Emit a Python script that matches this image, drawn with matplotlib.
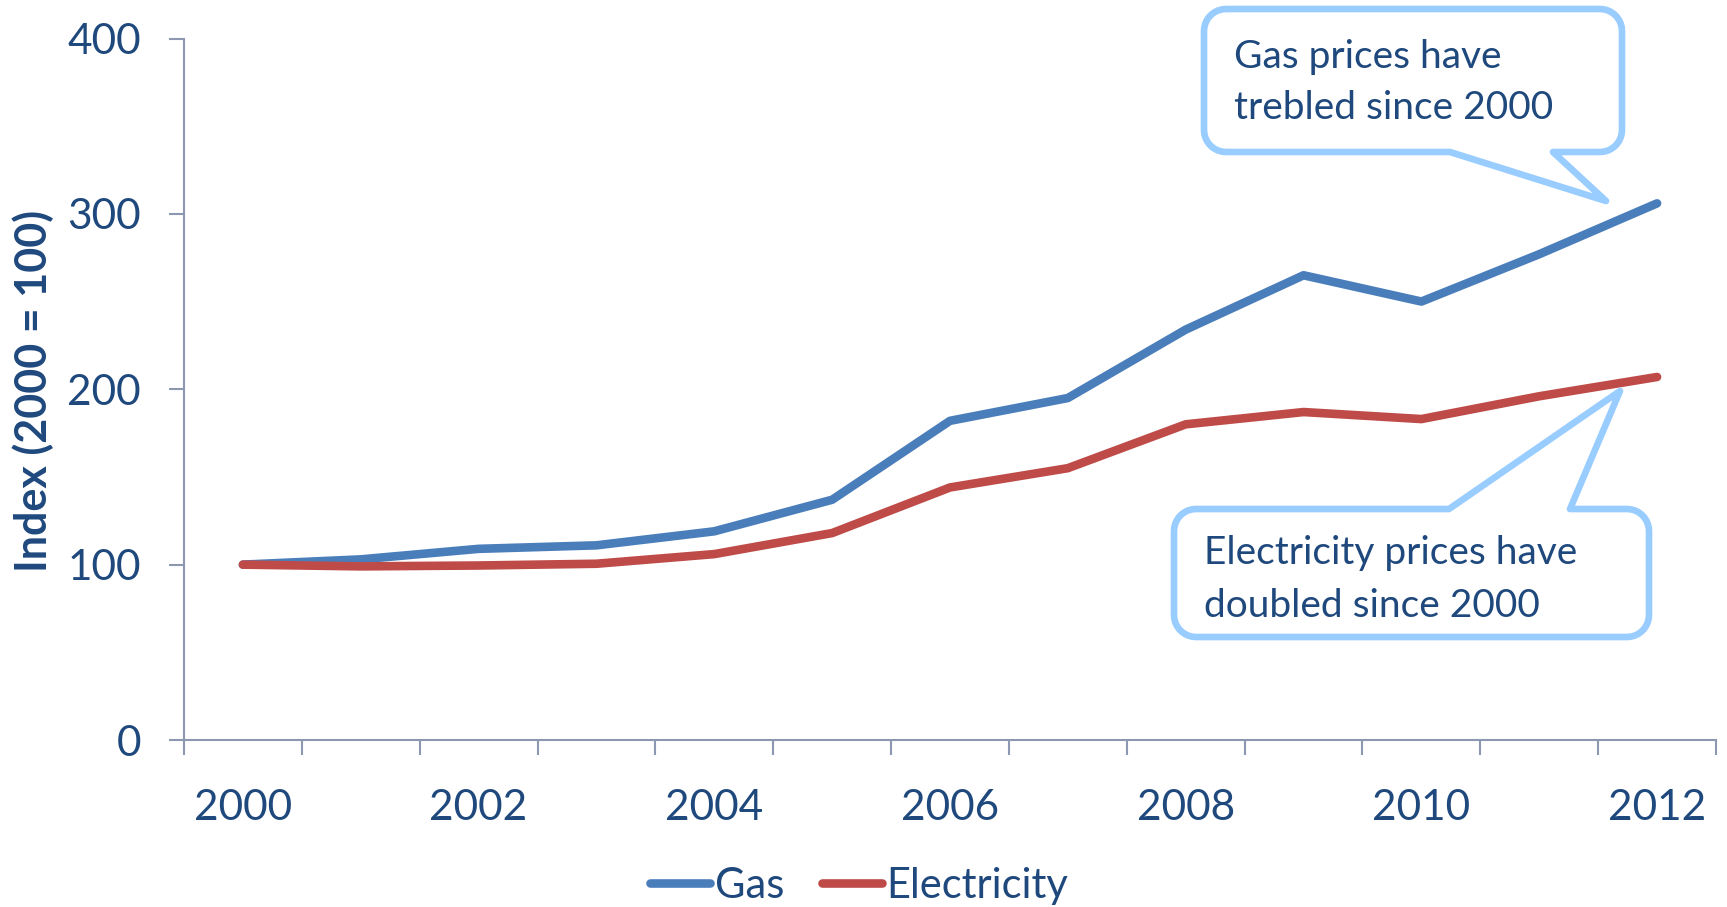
import numpy as np
import matplotlib
matplotlib.use("Agg")
import matplotlib.pyplot as plt
from matplotlib.patches import Polygon
from matplotlib.lines import Line2D

years = [2000, 2001, 2002, 2003, 2004, 2005, 2006, 2007, 2008, 2009, 2010, 2011, 2012]
gas = [100, 103, 109, 111, 119, 137, 182, 195, 234, 265, 250, 277, 306]
electricity = [100, 99, 99.5, 100.5, 106, 118, 144, 155, 180, 187, 183, 196, 207]
y_ticks = [0, 100, 200, 300, 400]

TEXT = "#1F497D"
AXIS = "#8C97B2"
GAS_C = "#4A7EBB"
ELEC_C = "#BE4B48"
CALLOUT = "#99CCFF"

plt.rcParams["font.family"] = ["Lato", "DejaVu Sans"]

W, H = 1727, 907
fig = plt.figure(figsize=(W / 100, H / 100), dpi=100)
ax = fig.add_axes([184 / W, 1 - 740 / H, (1716 - 184) / W, (740 - 38.5) / H])

x = np.arange(len(years))
ax.plot(x, gas, color=GAS_C, lw=6.2, solid_capstyle="round", solid_joinstyle="round")
ax.plot(x, electricity, color=ELEC_C, lw=6.2, solid_capstyle="round", solid_joinstyle="round")

ax.set_xlim(-0.5, len(years) - 0.5)
ax.set_ylim(0, 400)

for s in ["top", "right"]:
    ax.spines[s].set_visible(False)
for s in ["left", "bottom"]:
    ax.spines[s].set_color(AXIS)
    ax.spines[s].set_linewidth(1.5)

ax.set_yticks(y_ticks)
ax.tick_params(axis="y", colors=AXIS, length=11, width=1.5, labelsize=30.5,
               labelcolor=TEXT, pad=20)

# tick marks between categories, labels on every other year
ax.set_xticks(np.arange(-0.5, len(years)), labels=[""] * (len(years) + 1))
ax.set_xticks(x[::2], labels=[str(y) for y in years[::2]], minor=True)
ax.tick_params(axis="x", which="major", colors=AXIS, length=11, width=1.5)
ax.tick_params(axis="x", which="minor", length=0, labelsize=30.5, labelcolor=TEXT, pad=35)

fig.text(33 / W, 1 - 391 / H, "Index (2000 = 100)", rotation=90, ha="center", va="center",
         fontsize=31, fontweight="bold", color=TEXT)

handles = [Line2D([], [], color=GAS_C, lw=6.2, solid_capstyle="round"),
           Line2D([], [], color=ELEC_C, lw=6.2, solid_capstyle="round")]
fig.legend(handles, ["Gas", "Electricity"], loc="center", bbox_to_anchor=(859 / W, 1 - 886 / H),
           ncol=2, frameon=False, fontsize=30, labelcolor=TEXT, handlelength=1.45,
           handletextpad=0.1, columnspacing=0.9)


def to_fig(pts):
    return [(px / W, 1 - py / H) for px, py in pts]


def callout(x0, y0, x1, y1, base_a, base_b, tip, side, r=22):
    # rounded box in pixel coords (y down), pointer on bottom or top edge
    pts = []

    def arc(cx, cy, a0, a1):
        for a in np.linspace(np.radians(a0), np.radians(a1), 10):
            pts.append((cx + r * np.cos(a), cy - r * np.sin(a)))

    arc(x0 + r, y0 + r, 180, 90)
    if side == "top":
        pts += [(base_a, y0), tip, (base_b, y0)]
    arc(x1 - r, y0 + r, 90, 0)
    arc(x1 - r, y1 - r, 0, -90)
    if side == "bottom":
        pts += [(base_b, y1), tip, (base_a, y1)]
    arc(x0 + r, y1 - r, 270, 180)
    fig.patches.append(Polygon(to_fig(pts), closed=True, transform=fig.transFigure,
                               facecolor="white", edgecolor=CALLOUT, lw=4.8, joinstyle="round"))


callout(1204, 9, 1622, 152, 1450, 1553, (1606, 201), "bottom")
fig.text(1234 / W, 1 - 68 / H, "Gas prices have", fontsize=28, color=TEXT, va="baseline")
fig.text(1234 / W, 1 - 119 / H, "trebled since 2000", fontsize=28, color=TEXT, va="baseline")

callout(1174, 509, 1649, 637, 1449, 1570, (1620, 391), "top")
fig.text(1204 / W, 1 - 564 / H, "Electricity prices have", fontsize=28, color=TEXT, va="baseline")
fig.text(1204 / W, 1 - 617 / H, "doubled since 2000", fontsize=28, color=TEXT, va="baseline")

fig.savefig("out.png", dpi=100, facecolor="white")
